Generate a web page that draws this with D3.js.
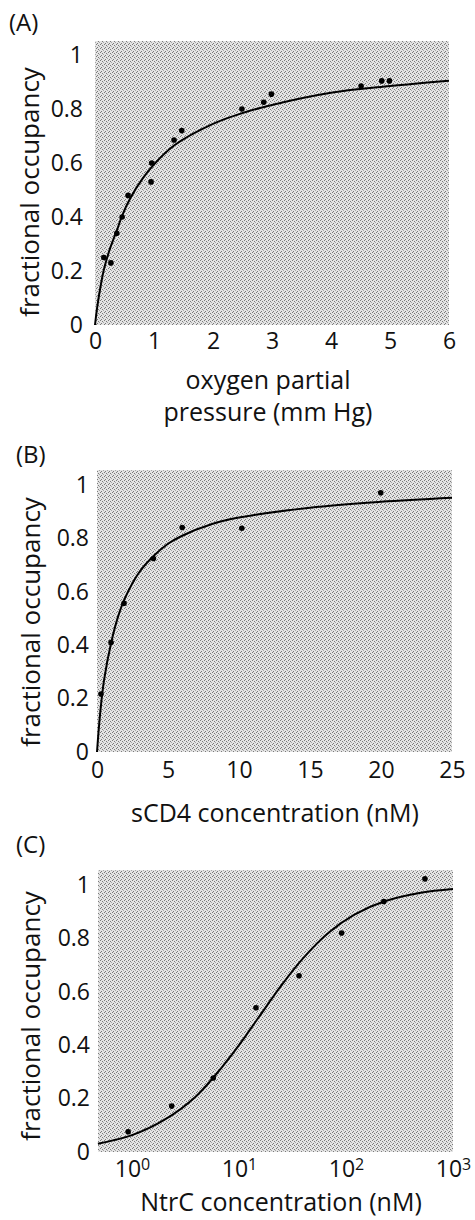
<!DOCTYPE html>
<html><head><meta charset="utf-8">
<script src="https://cdn.jsdelivr.net/npm/d3@7"></script>
<style>body{margin:0;background:#fff;} svg{display:block;} text{font-family:"Open Sans",sans-serif;fill:#111;}</style>
</head><body>
<script>
// ---- Panel A data ----
const aTitle = "(A)";
const aXTicks = [0,1,2,3,4,5,6];
const aYTicks = [0,0.2,0.4,0.6,0.8,1];
const aYTickLabels = ["0","0.2","0.4","0.6","0.8","1"];
const aPointsX = [0.15,0.27,0.37,0.46,0.56,0.95,0.96,1.34,1.47,2.49,2.86,2.99,4.51,4.86,4.99];
const aPointsY = [0.25,0.23,0.34,0.40,0.48,0.53,0.60,0.685,0.72,0.80,0.825,0.855,0.885,0.904,0.904];
const aCurveX = [0,0.04,0.1,0.15,0.25,0.37,0.46,0.6,0.8,1,1.34,2,2.5,3,4,5,6];
const aCurveY = [0,0.07,0.15,0.205,0.28,0.35,0.405,0.47,0.54,0.595,0.665,0.745,0.785,0.815,0.86,0.885,0.905];
const aXLabel = ["oxygen partial","pressure (mm Hg)"];

// ---- Panel B data ----
const bTitle = "(B)";
const bXTicks = [0,5,10,15,20,25];
const bYTicks = [0,0.2,0.4,0.6,0.8,1];
const bYTickLabels = ["0","0.2","0.4","0.6","0.8","1"];
const bPointsX = [0.28,0.99,1.9,3.97,6.0,10.2,19.98];
const bPointsY = [0.217,0.41,0.557,0.725,0.841,0.838,0.971];
const bCurveX = [0,0.1,0.25,0.5,1,1.5,2,3,4,5,6,8,10,15,20,25];
const bCurveY = [0,0.07,0.16,0.27,0.41,0.51,0.58,0.675,0.735,0.78,0.81,0.852,0.878,0.915,0.937,0.952];
const bXLabel = ["sCD4 concentration (nM)"];

// ---- Panel C data ----
const cTitle = "(C)";
const cXTicks = [1,10,100,1000];
const cXTickExp = ["0","1","2","3"];
const cYTicks = [0,0.2,0.4,0.6,0.8,1];
const cYTickLabels = ["0","0.2","0.4","0.6","0.8","1"];
const cPointsX = [0.92,2.35,5.75,14.4,36.4,91,226,547];
const cPointsY = [0.076,0.172,0.277,0.54,0.66,0.82,0.938,1.023];
const cCurveX = [0.48,1,2,4,7,10,15,25,40,70,120,226,500,1000];
const cCurveY = [0.031,0.063,0.12,0.21,0.32,0.40,0.50,0.625,0.727,0.824,0.889,0.938,0.971,0.985];
const cXLabel = ["NtrC concentration (nM)"];

const W = 475, H = 1220;
const svg = d3.select("body").append("svg").attr("width", W).attr("height", H);

// stipple pattern
const defs = svg.append("defs");
const pat = defs.append("pattern").attr("id","stip").attr("patternUnits","userSpaceOnUse")
  .attr("width",4).attr("height",4);
pat.append("rect").attr("width",4).attr("height",4).attr("fill","#e4e4e4");
[[0,0],[2,1],[1,3],[3,2]].forEach(([px,py],i)=>{
  pat.append("rect").attr("x",px).attr("y",py).attr("width",1).attr("height",1)
    .attr("fill", i===3 ? "#a6a6a6" : "#7a7a7a");
});

function panel(cfg){
  const g = svg.append("g");
  const x = cfg.log
    ? d3.scaleLog().domain(cfg.xDomain).range([cfg.left, cfg.right])
    : d3.scaleLinear().domain(cfg.xDomain).range([cfg.left, cfg.right]);
  const y = d3.scaleLinear().domain([0,1]).range([cfg.y0, cfg.y1]);

  g.append("rect").attr("x",cfg.left).attr("y",cfg.top)
    .attr("width",cfg.right-cfg.left).attr("height",cfg.y0-cfg.top)
    .attr("fill","url(#stip)");

  // title
  g.append("text").attr("x",cfg.titleX).attr("y",cfg.titleY)
    .style("font-size","24px").text(cfg.title);

  // y axis
  const ya = d3.axisLeft(y).tickValues(cfg.yTicks).tickSize(0).tickPadding(cfg.yPad)
    .tickFormat((d,i)=>cfg.yTickLabels[i]);
  const yg = g.append("g").attr("transform",`translate(${cfg.left},0)`).call(ya);
  yg.select(".domain").remove();
  yg.selectAll("text").style("font-size","23px").attr("fill","#111")
    .style("font-family","'Open Sans',sans-serif");

  // x axis
  const xa = d3.axisBottom(x).tickValues(cfg.xTicks).tickSize(0).tickPadding(cfg.xPad)
    .tickFormat(cfg.log ? ()=>"" : d3.format("d"));
  const xg = g.append("g").attr("transform",`translate(0,${cfg.y0})`).call(xa);
  xg.select(".domain").remove();
  xg.selectAll("text").style("font-size","23px").attr("fill","#111")
    .style("font-family","'Open Sans',sans-serif");
  if (cfg.log){
    xg.selectAll(".tick").each(function(d,i){
      const t = d3.select(this).select("text").attr("text-anchor","middle");
      t.text(null);
      t.append("tspan").text("10");
      t.append("tspan").attr("dy","-0.45em").style("font-size","16px").text(cfg.xTickExp[i]);
    });
  }

  // y label
  g.append("text")
    .attr("transform",`translate(${cfg.yLabelX},${cfg.yLabelY}) rotate(-90)`)
    .attr("text-anchor","middle").style("font-size","26px").text("fractional occupancy");

  // x label
  cfg.xLabel.forEach((s,i)=>{
    g.append("text").attr("x",cfg.xLabelX).attr("y",cfg.xLabelY + i*32)
      .attr("text-anchor","middle").style("font-size","25px").text(s);
  });

  // curve
  const pts = cfg.curveX.map((v,i)=>[v,cfg.curveY[i]]);
  g.append("path").datum(pts)
    .attr("d", d3.line().x(d=>x(d[0])).y(d=>y(d[1])).curve(d3.curveCatmullRom.alpha(0.5)))
    .attr("fill","none").attr("stroke","#000").attr("stroke-width",2);

  // points
  g.selectAll("circle.pt").data(cfg.px.map((v,i)=>[v,cfg.py[i]])).enter()
    .append("circle").attr("cx",d=>x(d[0])).attr("cy",d=>y(d[1])).attr("r",2.8).attr("fill","#000");
}

panel({title:aTitle,titleX:9,titleY:31,left:95,right:449,top:41,y0:325,y1:55,
  xDomain:[0,6],xTicks:aXTicks,yTicks:aYTicks,yTickLabels:aYTickLabels,yPad:12,xPad:8,
  px:aPointsX,py:aPointsY,curveX:aCurveX,curveY:aCurveY,
  yLabelX:39,yLabelY:192,xLabel:aXLabel,xLabelX:268,xLabelY:389});

panel({title:bTitle,titleX:16,titleY:463,left:97,right:452,top:470,y0:752,y1:485,
  xDomain:[0,25],xTicks:bXTicks,yTicks:bYTicks,yTickLabels:bYTickLabels,yPad:8,xPad:10,
  px:bPointsX,py:bPointsY,curveX:bCurveX,curveY:bCurveY,
  yLabelX:40,yLabelY:622,xLabel:bXLabel,xLabelX:275,xLabelY:822});

panel({title:cTitle,titleX:16,titleY:853,left:98,right:453,top:870,y0:1152,y1:885,log:true,
  xDomain:[0.481,1000],xTicks:cXTicks,xTickExp:cXTickExp,yTicks:cYTicks,yTickLabels:cYTickLabels,yPad:8,xPad:9,
  px:cPointsX,py:cPointsY,curveX:cCurveX,curveY:cCurveY,
  yLabelX:40,yLabelY:1016,xLabel:cXLabel,xLabelX:281,xLabelY:1211});
</script>
</body></html>
